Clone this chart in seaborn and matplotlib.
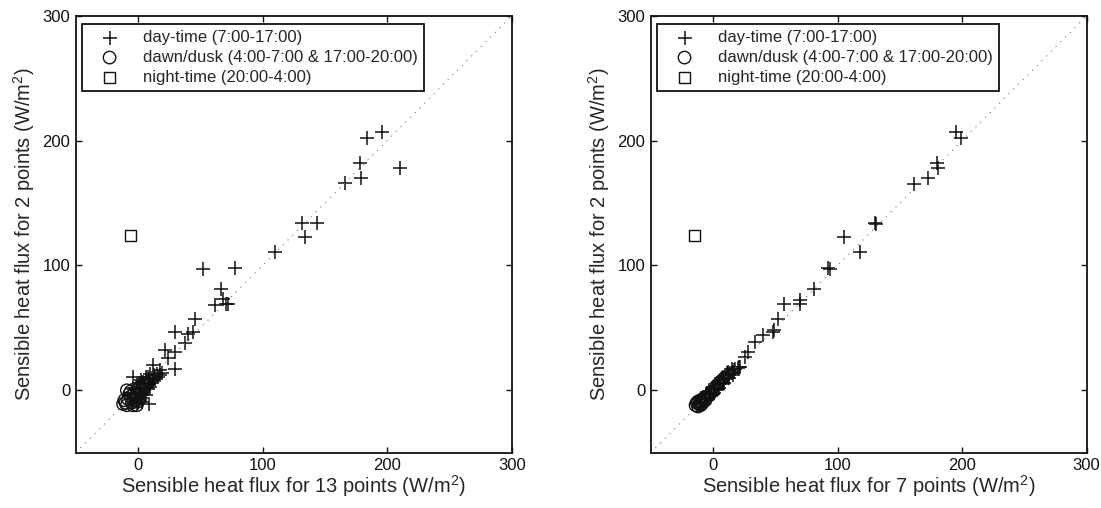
import matplotlib
matplotlib.use('Agg')
import matplotlib.pyplot as plt
import seaborn as sns

# ---- data (W/m2) ----
# left panel: 13-point flux (x) vs 2-point flux (y)
day13_x = [-5, -3, -2, 0, 0, 1, 2, 3, 4, 5, 6, 7, 8, 9, 10, 11, 12, 13, 14, 15,
           -2, -1, 1, 2, 3, 5, 4, 6, 8, 10, -4, -3, 0, 2, 1, 3, 7, 9, 16, 18,
           -1, 3, 6, -4, 12, 18, 19, 9, 30, 22, 30, 24, 38, 30, 40, 44, 62, 71,
           72, 46, 68, 67, 52, 78, 110, 132, 144, 134, 166, 178, 179, 184, 196, 210,
           -6, -3, -1, 1, 3, 5, 7, 9, 11, 4, 6, 2, 0, 8, 10, 13]
day13_y = [-8, -6, -3, -5, 0, 2, -1, 3, 1, 5, 3, 7, 5, 9, 6, 10, 8, 12, 10, 13,
           2, 5, 6, 8, -3, 0, -2, 9, 11, 13, -2, 1, -8, -6, -3, 6, 2, 4, 11, 12,
           -10, -9, -4, 11, 20, 16, 14, -11, 17, 32, 31, 26, 38, 47, 45, 47, 68, 69,
           69, 57, 73, 81, 97, 98, 111, 134, 134, 123, 166, 182, 170, 202, 207, 178,
           -4, -9, 0, -6, 0, 2, 4, 6, 7, 7, 11, 3, 3, 1, 3, 9]
dawn13_x = [-12, -10, -9, -1, -9, -6, -4, -7, -2, -5, 0, -3, -8, -1, 1, -11, -4, -6]
dawn13_y = [-11, -10, -12, -12, 0, -5, -8, -3, -6, -10, -9, -2, -7, -3, -7, -8, -12, -1]
night13_x = [-6]
night13_y = [124]

# right panel: 7-point flux (x) vs 2-point flux (y)
day7_x = [-12, -10, -8, -6, -4, -2, 0, 1, 2, 3, 4, 5, 6, 7, 8, 9, 10, 11, 12, 13,
          14, 15, 16, 17, 18, 20, 22, -3, 0, 2, 4, 6, 8, 10, 12, -6, -9, -11, -1, 3,
          21, 26, 28, 34, 40, 48, 49, 52, 57, 70, 70, 81, 92, 94, 105, 118, 130, 131,
          161, 173, 180, 181, 195, 199,
          -10, -7, -5, -3, -1, 1, 3, 5, 7, 9, 11, 13, 15, -8, -4, 0, 4, 8, 12, 16]
day7_y = [-10, -9, -7, -6, -3, -2, 0, 2, 1, 3, 4, 6, 5, 7, 8, 9, 10, 11, 12, 13,
          14, 14, 15, 16, 17, 18, 19, -1, 3, 5, 1, 8, 6, 12, 10, -4, -10, -12, -3, 0,
          19, 27, 31, 39, 44, 47, 48, 57, 69, 69, 72, 81, 98, 97, 123, 111, 134, 133,
          165, 170, 182, 178, 207, 202,
          -6, -8, -2, -5, 2, -2, 6, 2, 10, 6, 14, 10, 17, -5, -6, -3, 7, 11, 15, 12]
dawn7_x = [-14, -13, -12, -11, -10, -9, -7, -5, -3, -1, -8, -6, -12, -10]
dawn7_y = [-12, -10, -13, -11, -8, -11, -6, -5, -4, -1, -9, -8, -9, -12]
night7_x = [-15]
night7_y = [124]

labels = ['day-time (7:00-17:00)',
          'dawn/dusk (4:00-7:00 & 17:00-20:00)',
          'night-time (20:00-4:00)']
xlabels = ['Sensible heat flux for 13 points (W/m$^2$)',
           'Sensible heat flux for 7 points (W/m$^2$)']
ylabel = 'Sensible heat flux for 2 points (W/m$^2$)'
ticks = [0, 100, 200, 300]

sns.set_style('ticks')
plt.rcParams['font.family'] = ['Liberation Sans', 'DejaVu Sans']
plt.rcParams['mathtext.fontset'] = 'custom'
plt.rcParams['mathtext.rm'] = 'Liberation Sans'

fig = plt.figure(figsize=(11.01, 5.08), dpi=100)
ax1 = fig.add_axes([0.0688, 0.1089, 0.396, 0.860])
ax2 = fig.add_axes([0.5910, 0.1089, 0.396, 0.860])

panels = [
    (ax1, day13_x, day13_y, dawn13_x, dawn13_y, night13_x, night13_y, xlabels[0]),
    (ax2, day7_x, day7_y, dawn7_x, dawn7_y, night7_x, night7_y, xlabels[1]),
]

for ax, dx, dy, ox, oy, nx, ny, xl in panels:
    # 1:1 line
    ax.plot([-50, 300], [-50, 300], linestyle=(0, (1, 5)), color='#777777', linewidth=0.8)

    sns.scatterplot(x=dx, y=dy, ax=ax, marker='+', color='#111111', s=100,
                    linewidth=1.1, label=labels[0])
    sns.scatterplot(x=ox, y=oy, ax=ax, marker='o', facecolors='none',
                    edgecolor='#111111', s=80, linewidth=1.0, label=labels[1])
    sns.scatterplot(x=nx, y=ny, ax=ax, marker='s', facecolors='none',
                    edgecolor='#111111', s=65, linewidth=1.0, label=labels[2])

    ax.set_xlim(-50, 300)
    ax.set_ylim(-50, 300)
    ax.set_xticks(ticks)
    ax.set_yticks(ticks)
    ax.tick_params(direction='in', length=4, width=1, top=True, right=True,
                   labelsize=12, colors='#111111', pad=4)
    for sp in ax.spines.values():
        sp.set_visible(True)
        sp.set_linewidth(1.3)
        sp.set_color('#111111')
    ax.set_xlabel(xl, fontsize=14.5, labelpad=0)
    ax.set_ylabel(ylabel, fontsize=14.5, labelpad=4)

    leg = ax.legend(loc='upper left', bbox_to_anchor=(0.0145, 0.981), borderaxespad=0,
                    frameon=True, fancybox=False, fontsize=12, handletextpad=0.7,
                    borderpad=0.35, labelspacing=0.3, handlelength=2.6)
    leg.get_frame().set_edgecolor('#111111')
    leg.get_frame().set_linewidth(1.3)
    leg.get_frame().set_alpha(1)

fig.savefig('out.png', dpi=100)
